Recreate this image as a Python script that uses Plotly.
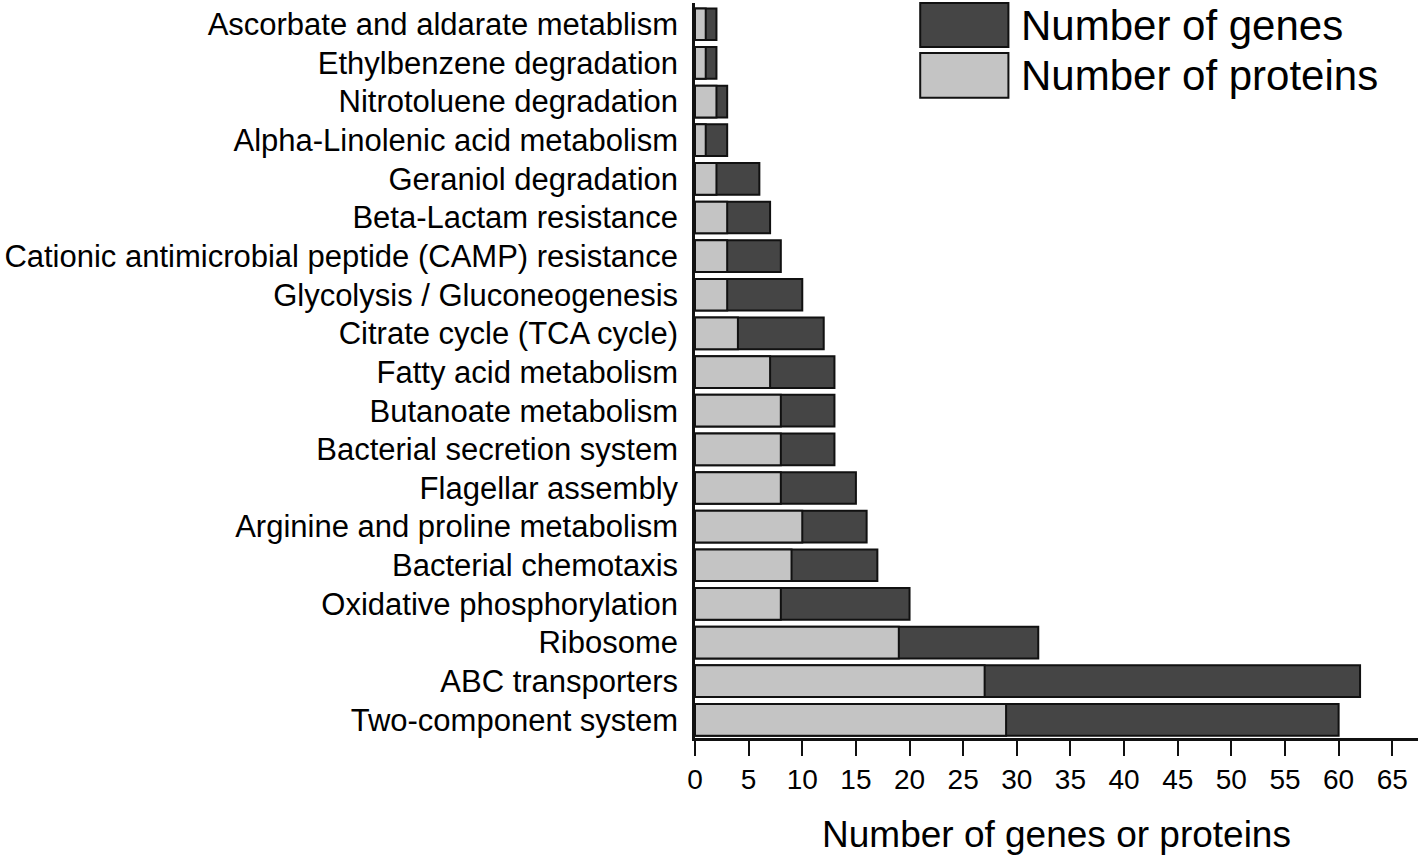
import plotly.graph_objects as go

# pathways listed bottom -> top
pathways = [
    "Two-component system",
    "ABC transporters",
    "Ribosome",
    "Oxidative phosphorylation",
    "Bacterial chemotaxis",
    "Arginine and proline metabolism",
    "Flagellar assembly",
    "Bacterial secretion system",
    "Butanoate metabolism",
    "Fatty acid metabolism",
    "Citrate cycle (TCA cycle)",
    "Glycolysis / Gluconeogenesis",
    "Cationic antimicrobial peptide (CAMP) resistance",
    "Beta-Lactam resistance",
    "Geraniol degradation",
    "Alpha-Linolenic acid metabolism",
    "Nitrotoluene degradation",
    "Ethylbenzene degradation",
    "Ascorbate and aldarate metablism",
]
n_genes = [60, 62, 32, 20, 17, 16, 15, 13, 13, 13, 12, 10, 8, 7, 6, 3, 3, 2, 2]
n_proteins = [29, 27, 19, 8, 9, 10, 8, 8, 8, 7, 4, 3, 3, 3, 2, 1, 2, 1, 1]
x_ticks = list(range(0, 70, 5))

DARK = "#454545"
LIGHT = "#c4c4c4"
FONT = "Liberation Sans, Arial, sans-serif"

fig = go.Figure()
fig.add_trace(go.Bar(
    y=pathways, x=n_genes, orientation="h", name="Number of genes",
    marker={"color": DARK, "line": {"color": "#111111", "width": 2}},
    width=0.82, showlegend=False,
))
fig.add_trace(go.Bar(
    y=pathways, x=n_proteins, orientation="h", name="Number of proteins",
    marker={"color": LIGHT, "line": {"color": "#111111", "width": 2}},
    width=0.82, showlegend=False,
))

# legend drawn by hand so the swatches can be large
legend_items = [("Number of genes", DARK, 1.0, 0.940), ("Number of proteins", LIGHT, 0.932, 0.871)]
for label, color, y_top, y_bot in legend_items:
    fig.add_shape(type="rect", xref="paper", yref="paper", x0=0.3115, x1=0.4335,
                  y0=y_bot, y1=y_top, fillcolor=color, line={"color": "#111111", "width": 2})
    fig.add_annotation(text=label, xref="paper", yref="paper", x=0.4475, y=(y_top + y_bot) / 2,
                       xanchor="left", yanchor="middle", showarrow=False,
                       font={"size": 42, "color": "black", "family": FONT})

fig.update_layout(
    barmode="overlay",
    width=1418, height=858,
    plot_bgcolor="white", paper_bgcolor="white",
    margin={"l": 695, "r": 0, "t": 3, "b": 120, "autoexpand": False},
    font={"family": FONT, "color": "black"},
)
fig.update_xaxes(
    range=[0, 67.4], tickvals=x_ticks, ticks="outside", ticklen=15, tickwidth=2,
    tickcolor="#111111", showline=True, linecolor="#111111", linewidth=2.5,
    showgrid=False, zeroline=False, tickfont={"size": 28}, automargin=False,
    title={"text": "Number of genes or proteins", "font": {"size": 37}, "standoff": 27},
)
fig.update_yaxes(
    range=[-0.47, 18.55], showline=True, linecolor="#111111", linewidth=2.5,
    showgrid=False, ticks="", tickfont={"size": 31}, ticklabelstandoff=8,
    automargin=False,
)

# drop the default page margin so the figure sits at the window corner
fig.write_html("out.html", config={"displayModeBar": False},
               post_script="document.body.style.margin='0';")
